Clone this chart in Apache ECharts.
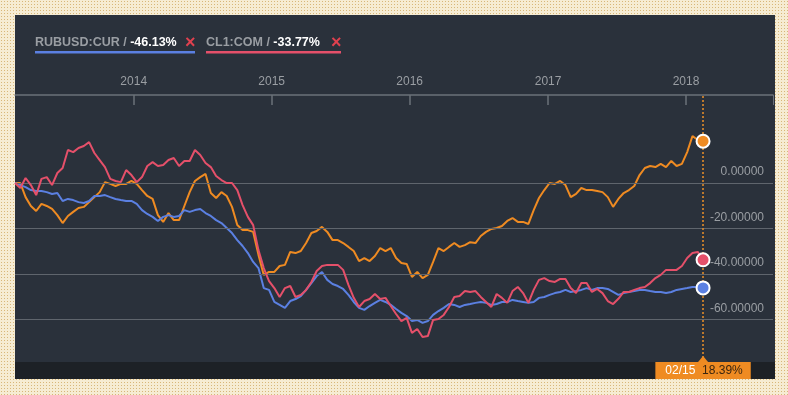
<!DOCTYPE html>
<html>
<head>
<meta charset="utf-8">
<script src="https://cdn.jsdelivr.net/npm/echarts@6/dist/echarts.min.js"></script>
<style>
  html, body { margin:0; padding:0; }
  body {
    width:788px; height:395px; position:relative; overflow:hidden;
    background-color:#f6ecd3;
    background-image: radial-gradient(#d8b779 0.9px, transparent 1px);
    background-size: 3px 3px;
  }
  #panel { position:absolute; left:15px; top:15px; width:760px; height:364px; background:#2a313b; }
  #strip { position:absolute; left:15px; top:362px; width:760px; height:17px; background:#1d2126; }
  #chart { position:absolute; left:0; top:0; width:788px; height:395px; }
</style>
</head>
<body>
<div id="panel"></div>
<div id="strip"></div>
<div id="chart"></div>
<script>
// ---- data ----
const seriesNames = ['RUBUSD:CUR', 'CL1:COM', 'MAIN'];
const endDate = [2018, 1, 15];  // 2018-02-15
const stepDays = 14;
const yTicks = [0, -20, -40, -60];

const rubusd = [
  0, -0.9, -1.8, -3.1, -3.5, -3.5, -4.0, -4.8, -4.4, -7.9,
  -7.0, -7.5, -8.4, -8.8, -7.9, -5.7, -5.7, -5.3, -6.2, -7.0,
  -7.5, -7.9, -7.9, -9.2, -11.9, -13.6, -14.9, -16.7, -14.9, -14.1,
  -14.9, -14.5, -11.9, -12.7, -11.9, -11.4, -13.2, -14.5, -16.3, -17.6,
  -19.8, -22.0, -25.1, -27.7, -30.8, -34.7, -37.4, -46.2, -47.0, -52.3,
  -53.6, -54.9, -51.9, -51.0, -49.7, -47.0, -44.0, -40.9, -39.1, -42.6,
  -44.4, -45.3, -46.6, -49.2, -52.3, -54.9, -55.8, -54.1, -52.7, -51.4,
  -52.3, -53.6, -55.4, -57.1, -58.5, -60.7, -60.2, -61.5, -60.7, -58.0,
  -56.3, -54.9, -53.2, -53.6, -54.5, -53.6, -53.2, -52.7, -52.3, -52.7,
  -53.6, -53.2, -52.3, -52.3, -51.4, -51.9, -52.3, -52.7, -52.3, -50.5,
  -50.1, -49.2, -48.4, -47.9, -47.0, -47.9, -47.5, -47.0, -46.2, -47.0,
  -46.2, -46.2, -46.6, -47.9, -49.2, -48.4, -47.9, -47.5, -47.0, -47.0,
  -47.5, -47.9, -47.9, -48.4, -47.9, -47.0, -46.6, -46.2, -45.7, -45.7,
  -46.13
];
const cl1 = [
  0, -2.2, 2.2, -0.9, -5.3, 1.8, 2.6, -0.9, 4.4, 6.6,
  14.5, 13.6, 15.4, 16.3, 18.0, 13.2, 10.1, 7.0, 1.8, 0.9,
  0.4, 5.7, 3.5, 0.4, 2.6, 7.5, 9.2, 7.5, 7.9, 10.1,
  11.0, 7.5, 9.7, 9.7, 14.5, 12.3, 8.8, 7.0, 3.1, 1.3,
  0, 0, -3.1, -9.7, -14.9, -18.5, -29.5, -37.4, -43.1, -46.2,
  -50.1, -46.2, -45.3, -50.1, -49.2, -47.0, -43.5, -38.7, -36.5, -36.0,
  -36.0, -36.0, -38.2, -44.8, -50.5, -54.5, -51.9, -51.0, -48.8, -51.0,
  -50.5, -54.1, -57.6, -60.7, -59.3, -65.9, -64.2, -67.7, -67.3, -60.2,
  -59.8, -58.0, -54.5, -50.1, -49.7, -47.5, -47.9, -47.5, -50.1, -52.3,
  -54.5, -48.8, -50.5, -52.7, -47.5, -45.7, -48.4, -52.7, -47.0, -42.6,
  -41.8, -43.1, -43.5, -42.2, -42.2, -46.2, -48.4, -44.0, -44.0, -47.9,
  -46.6, -48.4, -51.9, -53.2, -50.9, -47.9, -47.9, -47.0, -46.2, -45.7,
  -44.0, -41.8, -40.4, -38.2, -38.2, -38.2, -36.5, -33.0, -30.8, -30.3,
  -33.77
];
const mainSec = [
  0, 0, -6.2, -10.1, -12.3, -9.2, -10.1, -11.4, -14.1, -17.6,
  -14.5, -12.7, -11.0, -10.5, -8.4, -6.2, -4.0, 0.4, -0.4, -1.3,
  -0.4, -0.4, 0.9, -0.4, -3.1, -5.7, -7.0, -14.1, -17.1, -13.2,
  -16.3, -16.3, -10.1, -4.0, 0.9, 2.6, 4.0, -4.4, -6.6, -4.0,
  -5.7, -10.5, -18.5, -20.7, -20.7, -21.5, -31.6, -40.4, -39.1, -39.1,
  -36.5, -36.0, -30.3, -30.8, -29.9, -26.4, -22.0, -21.1, -19.3, -21.5,
  -25.1, -25.1, -26.4, -28.1, -29.9, -34.3, -33.0, -34.3, -32.1, -28.6,
  -29.9, -28.6, -33.0, -35.2, -35.6, -41.3, -39.1, -41.8, -40.4, -34.7,
  -28.6, -29.9, -28.1, -26.4, -28.1, -27.3, -26.0, -26.4, -23.3, -21.5,
  -20.2, -19.8, -18.9, -16.7, -15.4, -17.1, -17.1, -18.0, -11.9, -6.6,
  -3.1, 0, -0.4, 0.9, -0.9, -6.2, -4.8, -2.2, -3.1, -3.1,
  -3.5, -4.0, -6.2, -10.5, -7.0, -4.4, -3.1, -1.3, 3.5, 6.6,
  7.5, 7.0, 8.4, 7.0, 9.7, 7.5, 8.4, 13.6, 20.7, 18.9,
  18.39
];

// ---- layout / styles ----
const colors = { blue:'#5b80e2', red:'#e5506a', orange:'#ef8b22' };
const xMax = new Date(2018, 7, 19).getTime();
const yMin = -78.7, yMax = 38.7;

const DAY = 86400000;
const endT = new Date(endDate[0], endDate[1], endDate[2]).getTime();
const N = rubusd.length;
const dates = [];
for (let i = 0; i < N; i++) dates.push(endT - (N - 1 - i) * stepDays * DAY);
const pair = arr => arr.map((v, i) => [dates[i], v]);
const last = arr => arr[arr.length - 1];
const pad2 = n => (n < 10 ? '0' : '') + n;
const lastD = new Date(dates[N - 1]);
const tipDate = pad2(lastD.getMonth() + 1) + '/' + pad2(lastD.getDate());

const chart = echarts.init(document.getElementById('chart'), null, { renderer: 'canvas' });
const FONT = '"Liberation Sans", Arial, sans-serif';

const legendItems = [
  { name: seriesNames[0], val: last(rubusd), color: colors.blue, x: 35, xX: 185, w: 160 },
  { name: seriesNames[1], val: last(cl1), color: colors.red, x: 206, xX: 331, w: 135 }
];
const graphic = [];
legendItems.forEach(it => {
  graphic.push({
    type: 'text', x: it.x, y: 36, z: 10,
    style: {
      text: '{n|' + it.name + ' / }{v|' + it.val.toFixed(2) + '%}',
      rich: {
        n: { fill: '#9a9ea3', fontSize: 12.5, fontWeight: 'bold', fontFamily: FONT },
        v: { fill: '#ffffff', fontSize: 12.5, fontWeight: 'bold', fontFamily: FONT }
      }
    }
  });
  graphic.push({
    type: 'text', x: it.xX, y: 34, z: 10,
    style: { text: '\u00d7', fill: '#e0414f', fontSize: 18, fontWeight: 'bold', fontFamily: FONT }
  });
  graphic.push({
    type: 'rect', z: 10, shape: { x: it.x, y: 51, width: it.w, height: 2.5 },
    style: { fill: it.color }
  });
});
// right edge tick of the top axis
graphic.push({ type: 'line', z: 10, shape: { x1: 773.5, y1: 95, x2: 773.5, y2: 105 }, style: { stroke: '#6b717a', lineWidth: 1 } });

const lineBase = {
  type: 'line', showSymbol: false, symbol: 'none', lineStyle: { width: 2 },
  animation: false, silent: true, smooth: false
};

const option = {
  animation: false,
  grid: { left: 15, right: 15, top: 95, bottom: 33 },
  xAxis: {
    type: 'time', position: 'top',
    min: dates[0], max: xMax,
    minInterval: 365 * DAY, maxInterval: 366 * DAY,
    axisLine: { show: true, onZero: false, lineStyle: { color: '#6b717a', width: 1.5 } },
    axisTick: { show: true, inside: true, length: 10, lineStyle: { color: '#6b717a', width: 1.5 } },
    axisLabel: { formatter: '{yyyy}', color: '#9a9ea3', fontSize: 12, fontFamily: FONT, margin: 7, showMinLabel: false, showMaxLabel: false },
    splitLine: { show: false }
  },
  yAxis: {
    type: 'value', min: yMin, max: yMax,
    axisLine: { show: false }, axisTick: { show: false },
    axisLabel: { show: false }, splitLine: { show: false }
  },
  graphic: graphic,
  series: [
    {
      name: 'grid', type: 'line', data: [], z: 1, silent: true,
      markLine: {
        silent: true, symbol: 'none', animation: false,
        lineStyle: { color: '#5f656d', width: 1.2, type: 'solid' },
        label: {
          show: true, position: 'insideEndTop', distance: [9, 5],
          formatter: p => Number(p.value).toFixed(5),
          color: '#9a9ea3', fontSize: 12, fontFamily: FONT
        },
        data: yTicks.map(v => ({ yAxis: v }))
      }
    },
    Object.assign({}, lineBase, { name: seriesNames[2], data: pair(mainSec), z: 3, lineStyle: { width: 2, color: colors.orange } }),
    Object.assign({}, lineBase, { name: seriesNames[0], data: pair(rubusd), z: 4, lineStyle: { width: 2, color: colors.blue } }),
    Object.assign({}, lineBase, { name: seriesNames[1], data: pair(cl1), z: 5, lineStyle: { width: 2, color: colors.red } }),
    {
      name: 'cursor', type: 'line', data: [], z: 6, silent: true,
      itemStyle: { color: colors.orange },
      markLine: {
        silent: true, symbol: 'none', animation: false,
        lineStyle: { color: '#e08a2a', width: 1.6, type: [2, 2], opacity: 1 },
        label: {
          show: true, position: 'start', distance: 0,
          formatter: '{d|' + tipDate + '}  {v|' + last(mainSec).toFixed(2) + '%}',
          backgroundColor: colors.orange, padding: [2, 8, 2, 10],
          rich: {
            d: { color: '#ffffff', fontSize: 12, fontFamily: FONT, lineHeight: 13 },
            v: { color: '#3b2610', fontSize: 12, fontFamily: FONT, lineHeight: 13 }
          }
        },
        data: [{ xAxis: dates[N - 1], lineStyle: { color: '#e08a2a' } }]
      },
      markPoint: {
        silent: true, animation: false,
        symbol: 'triangle', symbolSize: [10, 6], symbolOffset: [0, -3],
        itemStyle: { color: colors.orange }, label: { show: false },
        data: [{ coord: [dates[N - 1], yMin] }]
      }
    },
    {
      name: 'ends', type: 'scatter', z: 8, silent: true, symbolSize: 13,
      itemStyle: { borderColor: '#ffffff', borderWidth: 2, opacity: 1 },
      data: [
        { value: [dates[N - 1], last(mainSec)], itemStyle: { color: colors.orange } },
        { value: [dates[N - 1], last(cl1)], itemStyle: { color: colors.red } },
        { value: [dates[N - 1], last(rubusd)], itemStyle: { color: colors.blue } }
      ]
    }
  ]
};
chart.setOption(option);
</script>
</body>
</html>
